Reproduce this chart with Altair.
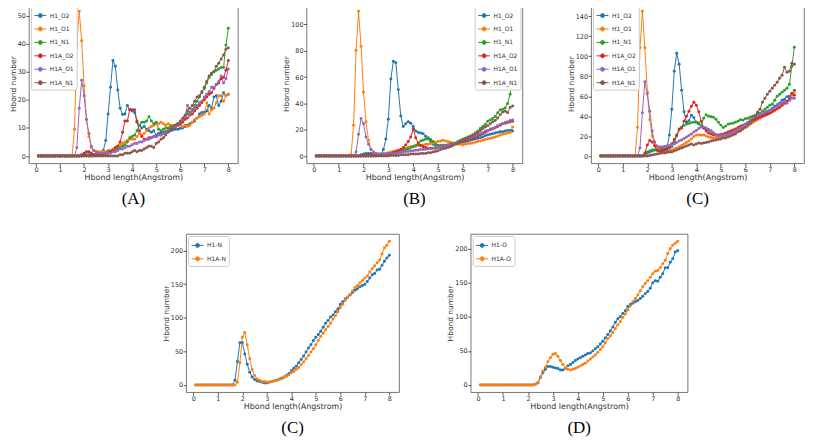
import altair as alt
import pandas as pd

X = [0.1,0.2,0.3,0.4,0.5,0.6,0.7,0.8,0.9,1.0,
     1.1,1.2,1.3,1.4,1.5,1.6,1.7,1.8,1.9,2.0,
     2.1,2.2,2.3,2.4,2.5,2.6,2.7,2.8,2.9,3.0,
     3.1,3.2,3.3,3.4,3.5,3.6,3.7,3.8,3.9,4.0,
     4.1,4.2,4.3,4.4,4.5,4.6,4.7,4.8,4.9,5.0,
     5.1,5.2,5.3,5.4,5.5,5.6,5.7,5.8,5.9,6.0,
     6.1,6.2,6.3,6.4,6.5,6.6,6.7,6.8,6.9,7.0,
     7.1,7.2,7.3,7.4,7.5,7.6,7.7,7.8,7.9,8.0]

NAMES6 = ["H1_O2", "H1_O1", "H1_N1", "H1A_O2", "H1A_O1", "H1A_N1"]
COLORS = ["#1f77b4", "#ff7f0e", "#2ca02c", "#d62728", "#9467bd", "#8c564b"]

# ---------- Panel (A) ----------
A_H1_O2 = [0,0,0,0,0,0,0,0,0,0,
           0,0,0,0,0,0,0,0,0,0.3,
           0.5,0.5,0.5,0.5,0.5,1,1,2,5.5,15,
           24.5,34,32,23.5,17,14.8,15,18,16.5,16,
           15.5,12,11,10,10.5,9.5,9,8.5,9,7.5,
           8,8.3,8.5,8.7,8.8,9,9.3,9.5,9.5,9.8,
           10,10.5,11,11.5,12,12.5,13.5,15,15.5,15.5,
           16,18,17,21,21.5,18,19.5,22.5,21.5,22]
A_H1_O1 = [0,0,0,0,0,0,0,0,0,0,
           0,0,0,0,0,9.5,40,51.5,41,25,
           13,7,3,2,1.5,1.5,1.5,1.5,1.5,2,
           2,2.5,3,3.5,4,4.5,5,5.5,6,6,
           6,7,8,7.5,8,9,10,10.5,11,11.5,
           11.5,12,11.5,11,11.5,11,11,11,11,11,
           10.5,11,10.5,11,12,13,13.5,14,14.5,15,
           19,15,16.5,17,19,21.5,21.5,19.5,21.5,22]
A_H1_N1 = [0,0,0,0,0,0,0,0,0,0,
           0,0,0,0,0,0,0,0,0,0,
           0,0,0,0,0.3,0.5,0.5,0.5,1,1.5,
           1.5,2,2,2.5,3,3.5,4,5,6.5,7,
           7.5,9,11,12,12,12.5,14,12.5,11.5,12,
           9.5,9,9.5,10,10,10.5,10.5,11,11.5,12,
           13,14,15,15.5,16.5,18,19.5,21,23,24,
           26,28,29,30,30.5,31,31.5,31.5,39.5,45.5]
A_H1A_O2 = [0,0,0,0,0,0,0,0,0,0,
            0,0,0,0,0,0,0,0,0.5,1,
            1.5,1.5,1,0.5,0.5,0.5,0.5,0.5,0.8,1,
            1.5,2,3,3.5,5,8.5,12.5,12.5,16.5,16.5,
            16.5,12.5,9,7,6,6,6.5,6.5,7,7,
            7.5,7.5,8,8.5,9,9.5,10,10.5,11,11.5,
            12,13,13.5,14.5,15,16,17,18,19,20,
            21,22,22.5,24,25.5,26,27.5,28,30.5,34]
A_H1A_O1 = [0,0,0,0,0,0,0,0,0,0,
            0,0,0,0,0,0,3,17,27,21.5,
            13,8,3.5,2,1.5,1,1,1,1,1,
            1,1.5,1.5,2,2.5,2.5,3,3.5,3.5,4,
            4.5,4.5,5,5,5.5,6,6,6.5,7,7,
            7.5,7.5,8,8.5,9,9.5,10,10.5,11,12,
            13,14,18,15,16,17,18,19,19.5,21,
            22,23,24.5,24.5,25.5,26.5,28.5,26,27.5,31]
A_H1A_N1 = [0,0,0,0,0,0,0,0,0,0,
            0,0,0,0,0,0,0,0,0,0,
            0,0,0,0,0,0,0,0,0,0,
            0,0,0,0,0.5,0.5,1,1,1,1.5,
            2,1.5,2,2,2.5,3,3.5,3.5,3,4.5,
            5,6,6.5,7.5,8.5,9.5,10,11,11.5,12.5,
            13.5,14.5,16,17,18,19.5,21,21.5,22.5,24.5,
            26.5,28.5,29.5,30,32,33,34.5,36,38,38.5]

# ---------- Panel (B) ----------
B_H1_O2 = [0,0,0,0,0,0,0,0,0,0,
           0,0,0,0,0,0,0,0,1,1.5,
           2,2,2,1.5,1,1,1,5,13,28,
           58.5,72,71,50.5,30.5,22.5,24.5,26,25,22.5,
           19,18,17.5,17,15,13,11,9,8,8,
           8,8,8,8.5,9,9,9.5,10,10,10.5,
           11,11.5,12,12.5,13,13.5,14,14.5,15.5,16,
           16.5,17,17.5,18,18.5,18.5,19,19.5,19.5,19]
B_H1_O1 = [0,0,0,0,0,0,0,0,0,0,
           0,0,0,0,1,23.5,80.5,110,83.5,48.5,
           26,12,5,2.5,2,1.5,1.5,2,2,2.5,
           3,3.5,4,4.5,5,5.5,6,6.5,7,7.5,
           7.5,8,8,8.5,9,9,9.5,10,10.5,11,
           11.5,12,11.5,11,10.5,10,9.5,9,9,8.5,
           9,9.5,9.5,10,10.5,11,11.5,12,12.5,13,
           13.5,14,14.5,15,16,16.5,17,17.5,18,22]
B_H1_N1 = [0,0,0,0,0,0,0,0,0,0,
           0,0,0,0,0,0,0,0,0,0,
           0,0,0,0,0,0.5,1,1,1.2,1.5,
           2,2.5,3,3.5,4,4.5,5,5.5,6.5,7,
           8,9,11.5,12,13,14,12.5,11,9,8,
           7.5,7.5,8,8.5,9,9.5,10,11,12,13,
           13.5,14.5,15,16,17.5,19,21,22.5,24,26.5,
           27.5,28.5,30,33,35,35.5,36.5,40,47,65]
B_H1A_O2 = [0,0,0,0,0,0,0,0,0,0,
            0,0,0,0,0,0,0,0,0,0,
            0.5,0.5,0.5,0.5,0.5,0.5,0.5,1,1,1.5,
            2,2.5,3,4,5,6.5,8.5,11,14.5,20.5,
            14,10,8,7,6.5,6,6,6,6,6.5,
            7,7,7.5,8,8.5,9,9.5,10,10.5,11,
            12,12.5,13,14,14.5,15.5,16,17,18,19,
            20,20.5,21.5,22.5,23.5,24.5,25,25.5,26,26.5]
B_H1A_O1 = [0,0,0,0,0,0,0,0,0,0,
            0,0,0,0,0,0,3,16.5,28.5,24.5,
            14.5,9,5,3,2,1.5,1.5,1.5,1.5,1.5,
            2,2,2,2.5,3,3,3.5,3.5,4,4,
            4.5,4.5,5,5,5,5.5,5.5,6,6,6.5,
            7,7,7.5,8,8.5,9,9.5,10,11,12,
            12.5,13,14,15,15.5,16.5,17,18,19,19.5,
            20.5,21,22,23,24,24.5,25.5,26,27,27.5]
B_H1A_N1 = [0,0,0,0,0,0,0,0,0,0,
            0,0,0,0,0,0,0,0,0,0,
            0,0,0,0,0,0,0,0,0,0,
            0.5,0.5,0.5,0.5,1,1,1,1,1.5,1.5,
            1.5,1.5,2,2,2,2.5,2.5,3,3.5,4,
            5,5.5,6,6.5,7,8,9,10,11,12,
            13,14,15,16,17,18,19.5,21,22,23,
            24.5,26,27,29,31.5,33.5,34,33,37,38]

# ---------- Panel (C), top ----------
C_H1_O2 = [0,0,0,0,0,0,0,0,0,0,
           0,0,0,0,0,0,0,0,1,3,
           4,5,6,6.5,7,7.5,7.5,8,21,47,
           85,103,92,66,44.5,34,35.5,41,38.5,34,
           32,30,28,27,26,25,23,21,20,20,
           20.5,21,21.5,22,23,24,25,26,27.5,29,
           30,32,34,36,38,40,41,42,44,46,
           48,50,51.5,53,56,57,59.5,60,62,66]
C_H1_O1 = [0,0,0,0,0,0,0,0,0,0,
           0,0,0,0,0,28.5,108.5,145,108.5,64.5,
           36.5,20,12,8,6,5,5,5,5.5,6,
           7,8,9,10.5,12,13.5,15,17,19.5,21,
           21,21,21,20,19,18.5,18,18,18.5,19,
           19.5,20,21,21.5,22.5,23.5,25,26,27,28.5,
           30,32,33.5,35,36.5,38,39.5,40.5,42,43,
           44.5,46,47.5,49,51,53,55,58,61,64]
C_H1_N1 = [0,0,0,0,0,0,0,0,0,0,
           0,0,0,0,0,0,0,0,1,4,
           5,6,6,5.5,5,5.5,6,7,8,9.5,
           14,20,26,29,30.5,32,32.5,33.5,34,34,
           33,30,38,41.5,40,39.5,39,37,34,31,
           28.5,30,32,32.5,33,34,35,36.5,36,37.5,
           38,39,40,41,42,43,45,47,49,51,
           52,56,60,62,64,66,68,72,90,109]
C_H1A_O2 = [0,0,0,0,0,0,0,0,0,0,
            0,0,0,0,0,0,0,0,3,11,
            15.5,14,10,6,5,5,6,7,9,12,
            16.5,21,27,28,35,40,45,50,54,51,
            44.5,35,28,25,23,22,21,21,21,21.5,
            22,23,24,25,26,27,28.5,30,31,32,
            33.5,35,36,37,38,39,40,41,42,43,
            44.5,46,47.5,49,51,53,55,57.5,63,61]
C_H1A_O1 = [0,0,0,0,0,0,0,0,0,0,
            0,0,0,0,0,0,8,43.5,74.5,62.5,
            45,25,14,10,9,9,9.5,10,10.5,11,
            12,13.5,15,16,17.5,19,20.5,22,24,25.5,
            27.5,29,29,28,26.5,25,23,21,20,20.5,
            21,21,22,23,24,25.5,27,28,30,32,
            34,36,37.5,39,40.5,41.5,42.5,44,45,46,
            47.5,49,50.5,52,53,54.5,53,56,58,58]
C_H1A_N1 = [0,0,0,0,0,0,0,0,0,0,
            0,0,0,0,0,0,0,0,0,0,
            0.5,1,1.5,2,2.5,3,3,3.5,4,4,
            5,6,7,8,9,10,11,12,11,12,
            13,12.5,13,13.5,14,15,15.5,16,16.5,17,
            18,18,19,20,21,22,24,25,27,29,
            31,33,36,40,44,47,54,58,62,65,
            68,71,74,78,81,89,84,85,93,92]

# ---------- Panel (C), bottom ----------
N_NAMES = ["H1-N", "H1A-N"]
CB_H1_N = [0,0,0,0,0,0,0,0,0,0,
           0,0,0,0,0,0,7,35,63,63,
           46,31,19,12,8,6,5,4,3,3,
           4,5,6,7,9,10,12,14,17,21,
           25,28,33,38,43,49,55,60,66,71,
           75,80,86,92,96,101,104,109,113,120,
           124,128,131,134,138,141,143,146,148,150,
           154,159,164,166,171,172,178,184,189,193]
CB_H1A_N = [0,0,0,0,0,0,0,0,0,0,
            0,0,0,0,0,0,0,4,33,71,
            78,60,39,23,14,9,7,5,5,4.5,
            4.5,5,6,7,8,9,11,13,15,18,
            20,23,26,30,34,39,44,49,54,60,
            66,72,77,82,87,92,98,103,109,115,
            120,126,130,135,140,145,148,152,155,159,
            162,168,173,177,182,186,195,204,208,214]

# ---------- Panel (D) ----------
O_NAMES = ["H1-O", "H1A-O"]
D_H1_O = [0,0,0,0,0,0,0,0,0,0,
          0,0,0,0,0,0,0,0,0,0,
          0,0,1,3,11,18,23,27,27,26,
          25,24,22,22,24,28,30,33,36,38,
          40,42,44,46,47,50,53,56,60,64,
          69,74,79,85,92,97,100,105,109,115,
          118,120,122,124,127,130,134,137,142,150,
          153,152,158,163,172,172,180,185,195,197]
D_H1A_O = [0,0,0,0,0,0,0,0,0,0,
           0,0,0,0,0,0,0,0,0,0,
           0,0,1,4,12,20,26,34,40,45,
           46,42,36,30,25,23,22,23,24,26,
           28,30,32,35,38,41,44,48,52,56,
           62,68,72,77,83,88,93,99,104,110,
           116,122,127,132,138,144,149,153,158,163,
           167,168,172,178,183,193,200,205,208,211]

X_TICKS = [0, 1, 2, 3, 4, 5, 6, 7, 8]
LEGEND_SYMBOL = "M-1,0L1,0M0.33,0A0.33,0.33,0,1,1,-0.33,0A0.33,0.33,0,1,1,0.33,0Z"


def panel(names, series, yticks, legend_orient, caption, width, height):
    rows = []
    for k, (nm, vals) in enumerate(zip(names, series)):
        for xv, yv in zip(X, vals):
            rows.append({"x": xv, "y": yv, "series": nm, "k": k})
    df = pd.DataFrame(rows)
    ymax = max(max(v) for v in series)
    ydom = [-0.05 * ymax, 1.05 * ymax]
    return alt.Chart(df).mark_line(
        strokeWidth=1,
        point=alt.OverlayMarkDef(filled=True, size=9, opacity=1),
    ).encode(
        x=alt.X("x:Q",
                scale=alt.Scale(domain=[-0.295, 8.395], nice=False, zero=False),
                axis=alt.Axis(values=X_TICKS, title="Hbond length(Angstrom)", format="d")),
        y=alt.Y("y:Q",
                scale=alt.Scale(domain=ydom, nice=False, zero=False),
                axis=alt.Axis(values=yticks, title="Hbond number", format="d")),
        color=alt.Color("series:N",
                        scale=alt.Scale(domain=names, range=COLORS[:len(names)]),
                        sort=names,
                        title=None,
                        legend=alt.Legend(orient=legend_orient, offset=2,
                                          symbolType=LEGEND_SYMBOL, symbolSize=144,
                                          symbolStrokeWidth=1)),
        order="k:Q",
    ).properties(
        width=width, height=height,
        title=alt.TitleParams(caption, orient="bottom", anchor="middle", frame="group",
                              font="Liberation Serif", fontSize=17, fontWeight="normal",
                              color="#000", offset=10),
    )


pA = panel(NAMES6, [A_H1_O2, A_H1_O1, A_H1_N1, A_H1A_O2, A_H1A_O1, A_H1A_N1],
           [0, 10, 20, 30, 40, 50], "top-left", "(A)", 210, 160)
pB = panel(NAMES6, [B_H1_O2, B_H1_O1, B_H1_N1, B_H1A_O2, B_H1A_O1, B_H1A_N1],
           [0, 20, 40, 60, 80, 100], "top-right", "(B)", 217, 160)
pC = panel(NAMES6, [C_H1_O2, C_H1_O1, C_H1_N1, C_H1A_O2, C_H1A_O1, C_H1A_N1],
           [0, 20, 40, 60, 80, 100, 120, 140], "top-left", "(C)", 214, 160)
pCb = panel(N_NAMES, [CB_H1_N, CB_H1A_N], [0, 50, 100, 150, 200],
            "top-left", "(C)", 214, 159)
pD = panel(O_NAMES, [D_H1_O, D_H1A_O], [0, 50, 100, 150, 200],
           "top-left", "(D)", 218, 159)

spacer = alt.Chart(pd.DataFrame({"a": [0]})).mark_point(opacity=0).encode(
    x=alt.value(0), y=alt.value(0)
).properties(width=86, height=20, view=alt.ViewBackground(stroke="transparent"))

top = alt.hconcat(
    pA, alt.hconcat(pB, pC, spacing=43).resolve_scale(color="independent"), spacing=43
).resolve_scale(color="independent")
bottom = alt.hconcat(spacer, pCb, pD, spacing=46).resolve_scale(color="independent")

chart = alt.vconcat(top, bottom, spacing=22).resolve_scale(color="independent").properties(
    padding={"left": 0, "top": -6, "right": 0, "bottom": 0}
).configure_view(
    stroke="#555", strokeWidth=0.8
).configure_axis(
    grid=False, domain=False,
    labelFont="DejaVu Sans", labelFontSize=6.5, labelColor="#333",
    titleFont="DejaVu Sans", titleFontSize=8, titleFontWeight="normal", titleColor="#333",
    tickSize=3, tickColor="#333", tickWidth=0.8,
    labelPadding=0.5, titlePadding=0,
).configure_axisY(
    titleFontSize=7.5,
).configure_legend(
    labelFont="DejaVu Sans", labelFontSize=6, labelColor="#333",
    strokeColor="#ccc", fillColor="white", cornerRadius=2, padding=3,
    rowPadding=2.5, labelOffset=3,
)

chart.save("out.html", embed_options={"renderer": "svg", "actions": False})
